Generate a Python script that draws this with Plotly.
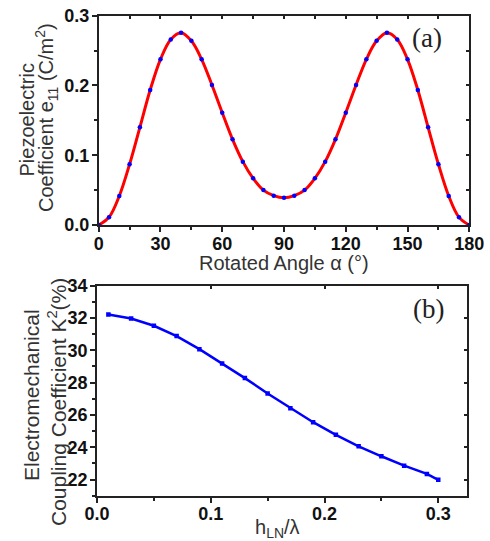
import plotly.graph_objects as go

# ---- data ----
angle = [0, 5, 10, 15, 20, 25, 30, 35, 40, 45, 50, 55, 60, 65, 70, 75, 80, 85, 90,
         95, 100, 105, 110, 115, 120, 125, 130, 135, 140, 145, 150, 155, 160, 165, 170, 175, 180]
e11 = [0.0, 0.011, 0.0416, 0.087, 0.140, 0.1935, 0.2375, 0.266, 0.2757, 0.264, 0.2375, 0.2007,
       0.161, 0.1228, 0.0908, 0.0669, 0.050, 0.042, 0.039,
       0.042, 0.050, 0.0669, 0.0908, 0.1228, 0.161, 0.2007, 0.2375, 0.264, 0.2757, 0.266,
       0.2375, 0.1935, 0.140, 0.087, 0.0416, 0.011, 0.0]
h_ratio = [0.01, 0.03, 0.05, 0.07, 0.09, 0.11, 0.13, 0.15, 0.17, 0.19, 0.21, 0.23, 0.25, 0.27, 0.29, 0.30]
k2 = [32.22, 31.97, 31.52, 30.88, 30.07, 29.18, 28.28, 27.33, 26.42, 25.55, 24.77, 24.06, 23.44, 22.86, 22.35, 21.98]

W, H = 490, 541
def px(x):
    return x / W
def py(y):
    return 1 - y / H

top_x = [px(98.7), px(469.3)]
top_y = [py(225), py(15.7)]
bot_x = [px(97), px(466.7)]
bot_y = [py(495.7), py(285.7)]

tickfont = dict(family="Liberation Sans", size=18, color="#111111", weight="bold")
AX = "#222222"

fig = go.Figure()
fig.add_trace(go.Scatter(x=angle, y=e11, mode="lines+markers", xaxis="x", yaxis="y",
                         line=dict(color="#ff0000", width=3, shape="spline", smoothing=1.0),
                         marker=dict(color="#0000ff", size=4.5), showlegend=False))
fig.add_trace(go.Scatter(x=h_ratio, y=k2, mode="lines+markers", xaxis="x2", yaxis="y2",
                         line=dict(color="#0000ff", width=2.5),
                         marker=dict(color="#0000ff", size=4.5, symbol="square"), showlegend=False))
# invisible traces for mirror axes
fig.add_trace(go.Scatter(x=[None], y=[None], xaxis="x3", yaxis="y3", showlegend=False, hoverinfo="skip"))
fig.add_trace(go.Scatter(x=[None], y=[None], xaxis="x4", yaxis="y4", showlegend=False, hoverinfo="skip"))

common = dict(showline=True, linecolor=AX, linewidth=1.8, showgrid=False, zeroline=False,
              tickcolor=AX, tickwidth=1.5, tickfont=tickfont, automargin=False)

fig.update_layout(
    width=W, height=H, margin=dict(l=0, r=0, t=0, b=0),
    paper_bgcolor="white", plot_bgcolor="white",
    xaxis=dict(domain=top_x, anchor="y", range=[0, 180], tick0=0, dtick=30, ticks="outside", ticklen=5,
               ticklabelstandoff=-4,
               minor=dict(dtick=15, ticks="outside", ticklen=3, tickcolor=AX, tickwidth=1.5), **common),
    yaxis=dict(domain=top_y, anchor="x", range=[0, 0.3], tick0=0, dtick=0.1, ticks="outside", ticklen=5,
               tickformat=".1f", ticklabelstandoff=-1,
               minor=dict(dtick=0.05, ticks="outside", ticklen=3, tickcolor=AX, tickwidth=1.5), **common),
    xaxis3=dict(overlaying="x", side="top", anchor="y", range=[0, 180], tick0=0, dtick=15,
                ticks="inside", ticklen=3, showticklabels=False, **common),
    yaxis3=dict(overlaying="y", side="right", anchor="x", range=[0, 0.3], tick0=0, dtick=0.05,
                ticks="inside", ticklen=3, showticklabels=False, **common),
    xaxis2=dict(domain=bot_x, anchor="y2", range=[0, 0.325], tick0=0, dtick=0.1, ticks="outside", ticklen=5,
                tickformat=".1f", ticklabelstandoff=-4,
                minor=dict(dtick=0.05, ticks="outside", ticklen=3, tickcolor=AX, tickwidth=1.5), **common),
    yaxis2=dict(domain=bot_y, anchor="x2", range=[21, 34], tick0=22, dtick=2, ticks="outside", ticklen=5,
                ticklabelstandoff=-1,
                minor=dict(dtick=1, ticks="outside", ticklen=3, tickcolor=AX, tickwidth=1.5), **common),
    xaxis4=dict(overlaying="x2", side="top", anchor="y2", range=[0, 0.325], tick0=0, dtick=0.1,
                ticks="inside", ticklen=3, showticklabels=False, **common),
    yaxis4=dict(overlaying="y2", side="right", anchor="x2", range=[21, 34], tick0=22, dtick=2,
                ticks="inside", ticklen=3, showticklabels=False, **common),
)

tfont = dict(family="Liberation Sans", size=20, color="#333333")
ann = [
    dict(text="Piezoelectric", x=px(26.5), y=py(120), textangle=-90, font=tfont),
    dict(text="Coefficient e<sub>11</sub> (C/m<sup>2</sup>)", x=px(47), y=py(118), textangle=-90, font=tfont),
    dict(text="Rotated Angle α (°)", x=px(284), y=py(263), font=tfont),
    dict(text="Electromechanical", x=px(31), y=py(395), textangle=-90, font=dict(tfont, size=21)),
    dict(text="Coupling Coefficient K<sup>2</sup>(%)", x=px(57), y=py(402), textangle=-90,
         font=dict(tfont, size=21)),
    dict(text="h<sub>LN</sub>/λ", x=px(277), y=py(528), font=tfont),
    dict(text="(a)", x=px(427), y=py(38), font=dict(family="Liberation Serif", size=27, color="#222222")),
    dict(text="(b)", x=px(428), y=py(309), font=dict(family="Liberation Serif", size=27, color="#222222")),
]
for a in ann:
    a.update(xref="paper", yref="paper", showarrow=False, xanchor="center", yanchor="middle")
fig.update_layout(annotations=ann)

fig.write_html("out.html", config={"displayModeBar": False},
               post_script="document.body.style.margin='0';document.body.style.overflow='hidden';")
